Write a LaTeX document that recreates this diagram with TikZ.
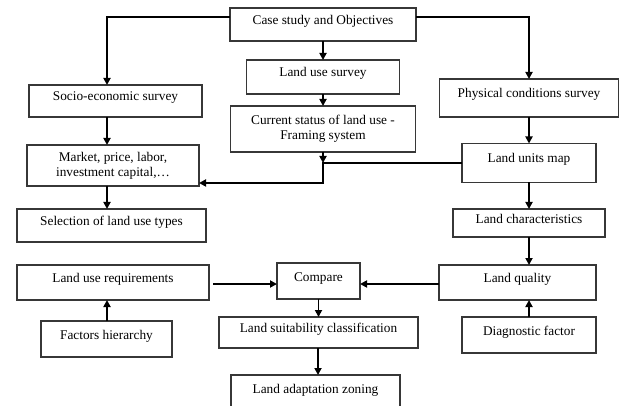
\documentclass[tikz,border=0pt]{standalone}
\usepackage{fontspec}
\setmainfont{Liberation Serif}
\usepackage{tikz}
\usetikzlibrary{arrows.meta}
\definecolor{boxgray}{RGB}{55,55,55}

\begin{document}
\begin{tikzpicture}[x=1pt,y=-1pt,
    box/.style={draw=boxgray, line width=1.1pt, inner sep=0pt, outer sep=0pt,
      font=\fontsize{13.3}{15}\selectfont, align=center,
      text height=0.7em, text depth=0.7em},
    twobox/.style={draw=boxgray, line width=1.1pt, inner sep=0pt, outer sep=0pt,
      font=\fontsize{13.3}{15}\selectfont, align=center},
    link/.style={line width=1.8pt},
    arr/.style={link, -{Triangle[width=7pt,length=7pt]}}]
    \useasboundingbox (0,0) rectangle (621,406);
    \clip (0,0) rectangle (621,406);
    \node [box, minimum width=186, minimum height=33] (case) at (323,24.5) {Case study and Objectives};
    \node [box, minimum width=153, minimum height=34] (use) at (323,77) {Land use survey};
    \node [twobox, minimum width=185, minimum height=46] (cur) at (323,129) {Current status of land use -\\Framing system};
    \node [box, minimum width=179, minimum height=38] (phys) at (529,98) {Physical conditions survey};
    \node [box, minimum width=134, minimum height=39] (units) at (529,163) {Land units map};
    \node [box, minimum width=173, minimum height=32] (socio) at (115.5,101) {Socio-economic survey};
    \node [twobox, minimum width=172, minimum height=41] (market) at (113,165.5) {Market, price, labor,\\investment capital,\dots};
    \node [box, minimum width=189, minimum height=33] (sel) at (111.5,225.5) {Selection of land use types};
    \node [box, minimum width=192, minimum height=35] (req) at (113,282.5) {Land use requirements};
    \node [box, minimum width=131, minimum height=36] (fact) at (106.5,339) {Factors hierarchy};
    \node [box, minimum width=83, minimum height=36] (comp) at (318.5,281) {Compare};
    \node [box, minimum width=199, minimum height=31] (suit) at (318.5,332.5) {Land suitability classification};
    \node [box, minimum width=169, minimum height=36] (zone) at (315.5,393) {Land adaptation zoning};
    \node [box, minimum width=152, minimum height=28] (char) at (529,223) {Land characteristics};
    \node [box, minimum width=157, minimum height=35] (qual) at (517.5,282.5) {Land quality};
    \node [box, minimum width=134, minimum height=36] (diag) at (529,335) {Diagnostic factor};
    \coordinate (colL) at (107,0);
    \coordinate (colZ) at (318,0);
    \coordinate (rowC) at (0,284);
    \coordinate (join) at (cur.south |- units.west);
    \draw [arr] ([yshift=7.5pt]case.west) -| (socio.north -| colL);
    \draw [arr] ([yshift=7.5pt]case.east) -| (phys.north);
    \draw [arr] (case.south) -- (use.north);
    \draw [arr] (use.south) -- (cur.north);
    \draw [arr] (cur.south) -- (join);
    \draw [arr] (units.west) -- (join) |- ([yshift=-17.5pt]market.east);
    \draw [arr] (socio.south -| colL) -- (market.north -| colL);
    \draw [arr] (market.south -| colL) -- (sel.north -| colL);
    \draw [arr] (fact.north -| colL) -- (req.south -| colL);
    \draw [arr, shorten <=4pt] (req.east |- rowC) -- (comp.west |- rowC);
    \draw [arr] (qual.west |- rowC) -- (comp.east |- rowC);
    \draw [arr] (comp.south) -- (suit.north);
    \draw [arr] (suit.south -| colZ) -- (zone.north -| colZ);
    \draw [arr] (phys.south) -- (units.north);
    \draw [arr] (units.south) -- (char.north);
    \draw [arr] (char.south) -- (char.south |- qual.north);
    \draw [arr] (diag.north) -- (diag.north |- qual.south);
\end{tikzpicture}
\end{document}
